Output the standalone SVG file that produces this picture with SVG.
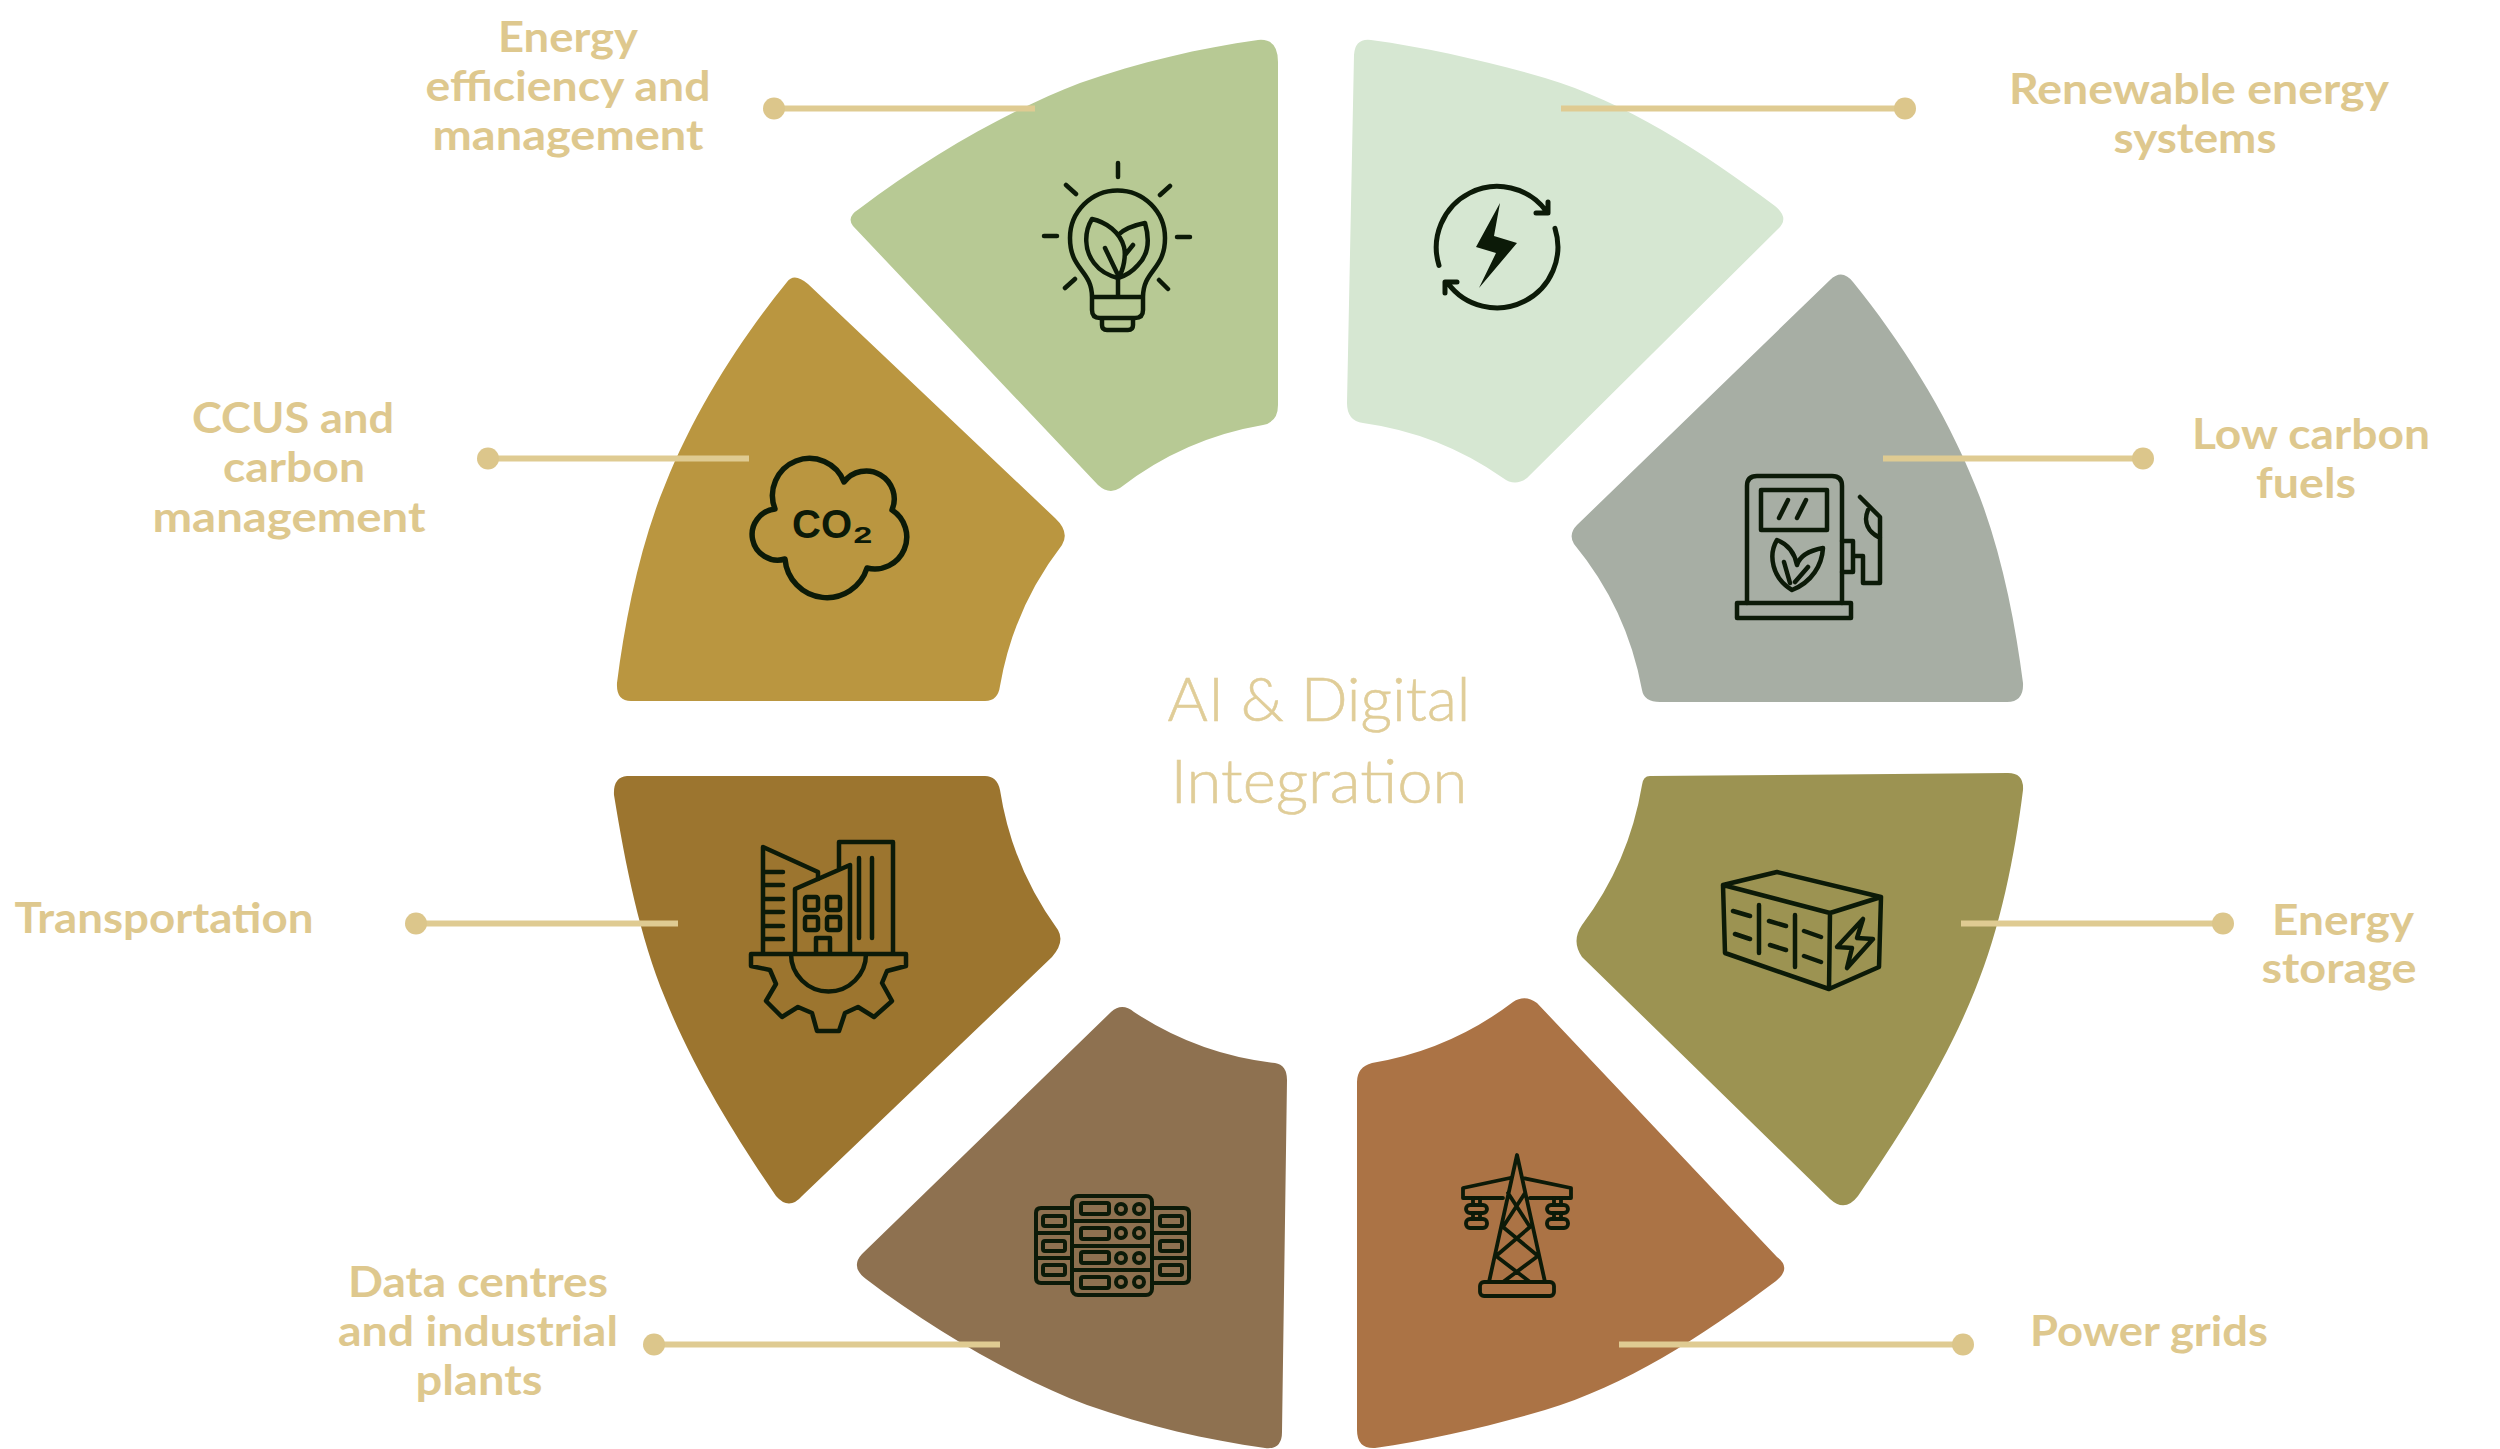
<svg xmlns="http://www.w3.org/2000/svg" width="2500" height="1449" viewBox="0 0 2500 1449">
<style>
.lbl{font-family:"Lato","Noto Sans",sans-serif;font-weight:700;font-size:42px;fill:#dec88e;text-anchor:middle}
.ttl{font-family:"Lato","Noto Sans",sans-serif;font-weight:300;font-size:62px;fill:#e0cd98;stroke:#e0cd98;stroke-width:.6px;text-anchor:middle}
.ic{fill:none;stroke:#0c1a08;stroke-width:4.500px;stroke-linecap:round;stroke-linejoin:round}
.ln{stroke:#dfcb92;stroke-width:6}
.dot{fill:#dcc68b}
</style>
<rect width="2500" height="1449" fill="#ffffff"/>
<g id="node-efficiency">
<path fill="#b7c994" d="M1278 62V405Q1278 422 1263 425A320 320 0 0 0 1120 488Q1109 495 1098 485L853 226Q846 217 859 209C930 155 1010 110 1080 83C1140 62 1200 48 1258 40Q1278 38 1278 62Z"/>
<g class="ic"><path d="M1118 163V177M1066 185L1076 194M1170 186L1160 195M1044 236H1057M1177 237H1190M1065 288L1075 279M1168 289L1159 280"/>
<path d="M1092 297C1092 270 1070 270 1070 238A47.5 47.5 0 0 1 1165 238C1165 270 1143 270 1143 297ZV310Q1092 318 1100 318H1135Q1143 318 1143 310V297M1102 318V325Q1102 330 1107 330H1128Q1133 330 1133 325V318M1118 278V297"/>
<path d="M1092 219C1084 232 1084 250 1094 263C1100 271 1110 276 1118 278C1124 270 1126 255 1124 247C1120 232 1106 222 1092 219ZM1118 235C1125 228 1135 225 1145 223C1150 240 1148 255 1138 265C1132 272 1125 276 1118 278M1105 248L1117 273M1133 245L1125 255"/></g>
<text class="lbl" x="568" y="52" textLength="140" lengthAdjust="spacingAndGlyphs">Energy</text>
<text class="lbl" x="568" y="101" textLength="285" lengthAdjust="spacingAndGlyphs">efficiency and</text>
<text class="lbl" x="568" y="150" textLength="271" lengthAdjust="spacingAndGlyphs">management</text>
</g>
<g id="node-renewable">
<path fill="#d6e7d2" d="M1354 55Q1355 38 1371 40C1430 48 1490 62 1545 78C1625 102 1700 150 1775 206Q1790 218 1778 229L1527 478Q1515 487 1503 478A320 320 0 0 0 1363 423Q1347 421 1347 403Z"/>
<g class="ic" style="stroke-width:5px"><path d="M1439 265.400A61 61 0 0 1 1546 210.700M1548 202V213H1536M1555 228.400A61 61 0 0 1 1447.500 282.700M1445 293V282H1457"/></g>
<path fill="#0c1a08" d="M1500 203L1476 247L1496 253L1479 288L1517 243L1494 236Z"/>
<text class="lbl" x="2199" y="104" textLength="380" lengthAdjust="spacingAndGlyphs">Renewable energy</text>
<text class="lbl" x="2195" y="153" textLength="163" lengthAdjust="spacingAndGlyphs">systems</text>
</g>
<g id="node-fuels">
<path fill="#a7aea4" d="M1830 280Q1842 268 1853 282C1900 340 1945 410 1975 485C2000 545 2015 620 2023 683Q2024 702 2007 702H1660Q1644 702 1642 690A320 320 0 0 0 1574 544Q1568 534 1577 525Z"/>
<g class="ic"><path d="M1747 603V486Q1747 476 1757 476H1832Q1842 476 1842 486V603"/>
<rect x="1761" y="490" width="66" height="40"/><path d="M1788 500L1779 518M1806 500L1797 518"/>
<rect x="1737" y="603" width="114" height="15"/>
<path d="M1777 540C1768 555 1772 578 1792 590C1812 582 1822 565 1823 548C1812 550 1800 555 1797 565C1795 555 1790 545 1777 540ZM1784 562L1790 583M1808 567L1795 582"/>
<path d="M1842 541H1853V572H1842M1853 556H1863V583H1880V517L1860 497M1868 510C1863 522 1868 532 1880 538"/></g>
<text class="lbl" x="2311" y="449" textLength="238" lengthAdjust="spacingAndGlyphs">Low carbon</text>
<text class="lbl" x="2306" y="498" textLength="100" lengthAdjust="spacingAndGlyphs">fuels</text>
</g>
<g id="node-storage">
<path fill="#9c9352" d="M1650 776L2008 773Q2024 773 2023 790C2015 855 2000 930 1975 990C1945 1065 1900 1135 1858 1196Q1845 1213 1830 1199L1582 957Q1571 941 1582 925A320 320 0 0 0 1642 785Q1643 776 1650 776Z"/>
<g class="ic"><path d="M1723 885L1777 872L1881 897L1830 913ZM1723 885L1725 953L1829 989L1830 913M1881 897L1879 967L1829 989"/>
<path d="M1759 905V953M1795 915V967M1733 911L1750 916M1735 934L1750 939M1769 921L1786 926M1770 945L1786 950M1804 931L1821 937M1804 956L1821 962"/>
<path d="M1863 919L1857 938L1873 939L1847 968L1852 948L1837 947Z"/></g>
<text class="lbl" x="2343" y="935" textLength="142" lengthAdjust="spacingAndGlyphs">Energy</text>
<text class="lbl" x="2339" y="983" textLength="155" lengthAdjust="spacingAndGlyphs">storage</text>
</g>
<g id="node-grids">
<path fill="#ab7345" d="M1537 1003L1777 1257Q1792 1268 1776 1281C1700 1338 1625 1386 1545 1410C1490 1426 1430 1440 1375 1448Q1357 1449 1357 1430V1082Q1357 1067 1372 1063A320 320 0 0 0 1513 1002Q1525 994 1537 1003Z"/>
<g class="ic" style="stroke-width:3.800px"><path d="M1489 1282L1517 1155L1545 1282M1510 1178L1463 1188V1198H1503M1523 1178L1571 1188V1198H1530M1508 1193L1530 1227L1496 1256L1530 1282M1525 1193L1503 1227L1538 1256L1503 1282"/>
<rect x="1480" y="1282" width="74" height="14" rx="4"/>
<rect x="1466" y="1205" width="21" height="8" rx="4"/><rect x="1466" y="1219" width="21" height="9" rx="4"/>
<rect x="1547" y="1205" width="21" height="8" rx="4"/><rect x="1547" y="1219" width="21" height="9" rx="4"/>
<path d="M1473 1198V1205M1480 1198V1205M1473 1213V1219M1480 1213V1219M1554 1198V1205M1561 1198V1205M1554 1213V1219M1561 1213V1219"/></g>
<text class="lbl" x="2149" y="1346" textLength="238" lengthAdjust="spacingAndGlyphs">Power grids</text>
</g>
<g id="node-data">
<path fill="#8e7150" d="M1111 1012Q1122 1002 1134 1012A320 320 0 0 0 1275 1063Q1287 1065 1287 1080L1282 1432Q1282 1450 1265 1448C1207 1440 1147 1426 1087 1405C1017 1378 937 1333 866 1279Q850 1267 862 1254Z"/>
<g class="ic" style="stroke-width:4px"><rect x="1072" y="1196" width="80" height="99" rx="6"/><path d="M1072 1221H1152M1072 1246H1152M1072 1270H1152"/>
<rect x="1081" y="1203" width="28" height="11" rx="2"/><rect x="1081" y="1228" width="28" height="11" rx="2"/><rect x="1081" y="1252" width="28" height="11" rx="2"/><rect x="1081" y="1277" width="28" height="11" rx="2"/>
<circle cx="1121" cy="1209" r="5"/><circle cx="1139" cy="1209" r="5"/><circle cx="1121" cy="1233" r="5"/><circle cx="1139" cy="1233" r="5"/><circle cx="1121" cy="1258" r="5"/><circle cx="1139" cy="1258" r="5"/><circle cx="1121" cy="1282" r="5"/><circle cx="1139" cy="1282" r="5"/>
<path d="M1072 1208H1041Q1036 1208 1036 1213V1278Q1036 1283 1041 1283H1072M1036 1233H1072M1036 1258H1072M1152 1208H1184Q1189 1208 1189 1213V1278Q1189 1283 1184 1283H1152M1152 1233H1189M1152 1258H1189"/>
<rect x="1043" y="1216" width="22" height="10" rx="2"/><rect x="1043" y="1241" width="22" height="10" rx="2"/><rect x="1043" y="1265" width="22" height="10" rx="2"/>
<rect x="1160" y="1216" width="22" height="10" rx="2"/><rect x="1160" y="1241" width="22" height="10" rx="2"/><rect x="1160" y="1265" width="22" height="10" rx="2"/></g>
<text class="lbl" x="478" y="1297" textLength="260" lengthAdjust="spacingAndGlyphs">Data centres</text>
<text class="lbl" x="478" y="1346" textLength="280" lengthAdjust="spacingAndGlyphs">and industrial</text>
<text class="lbl" x="479" y="1395" textLength="127" lengthAdjust="spacingAndGlyphs">plants</text>
</g>
<g id="node-transportation">
<path fill="#9c752f" d="M627 776H985Q997 776 1000 790A320 320 0 0 0 1058 930Q1065 942 1052 957L802 1196Q789 1211 776 1196C740 1143 695 1073 665 998C640 938 625 863 614 795Q613 777 627 776Z"/>
<g class="ic"><path d="M763 952V847L818 872V879M763 872H783M763 885H783M763 899H783M763 912H783M763 926H783M763 939H783"/>
<path d="M795 952V889L850 865V952M839 868V842H893V952M859 858V938M872 858V938"/>
<rect x="805" y="897" width="13" height="13" rx="2"/><rect x="827" y="897" width="13" height="13" rx="2"/><rect x="805" y="917" width="13" height="13" rx="2"/><rect x="827" y="917" width="13" height="13" rx="2"/>
<path d="M816 952V938H830V952"/>
<path d="M751 954H906V966L887 971L882 983L892 1001L874 1017L858 1007L845 1013L839 1031H817L812 1013L798 1007L782 1017L766 1001L776 984L770 970L751 966ZM791 954A37.500 37.500 0 0 0 866 954"/></g>
<text class="lbl" x="164" y="933" textLength="299" lengthAdjust="spacingAndGlyphs">Transportation</text>
</g>
<g id="node-ccus">
<path fill="#ba9640" d="M787 282Q794 272 808 284L1055 518Q1070 532 1062 545A320 320 0 0 0 1000 686Q998 701 985 701H631Q616 701 617 683C625 620 640 545 665 485C695 410 740 340 787 282Z"/>
<path class="ic" style="stroke-width:5.500px" d="M775 509A37 37 0 1 1 844 482A28 28 0 0 1 892 510A32 32 0 0 1 867 568A42 42 0 0 1 785 559A25.600 25.600 0 1 1 775 509Z"/>
<text x="792" y="538" font-family="Liberation Sans,sans-serif" font-weight="700" font-size="40" fill="#0c1a08">CO<tspan font-size="48" dy="4">₂</tspan></text>
<text class="lbl" x="293" y="433" textLength="202" lengthAdjust="spacingAndGlyphs">CCUS and</text>
<text class="lbl" x="294" y="482" textLength="142" lengthAdjust="spacingAndGlyphs">carbon</text>
<text class="lbl" x="289" y="532" textLength="273" lengthAdjust="spacingAndGlyphs">management</text>
</g>
<g id="connectors">
<path class="ln" d="M774 108.500H1035M1561 108.500H1905M749 458.500H488M1883 458.500H2143M1961 923.500H2223M678 923.500H416M1619 1344.500H1963M1000 1344.500H654"/>
<circle class="dot" cx="774" cy="108.500" r="11"/><circle class="dot" cx="1905" cy="108.500" r="11"/><circle class="dot" cx="488" cy="458.500" r="11"/><circle class="dot" cx="2143" cy="458.500" r="11"/><circle class="dot" cx="2223" cy="923.500" r="11"/><circle class="dot" cx="416" cy="923.500" r="11"/><circle class="dot" cx="1963" cy="1344.500" r="11"/><circle class="dot" cx="654" cy="1344.500" r="11"/>
</g>
<g id="center">
<text class="ttl" x="1319" y="721" textLength="303" lengthAdjust="spacingAndGlyphs">AI &amp; Digital</text>
<text class="ttl" x="1319" y="803" textLength="297" lengthAdjust="spacingAndGlyphs">Integration</text>
</g>
</svg>
